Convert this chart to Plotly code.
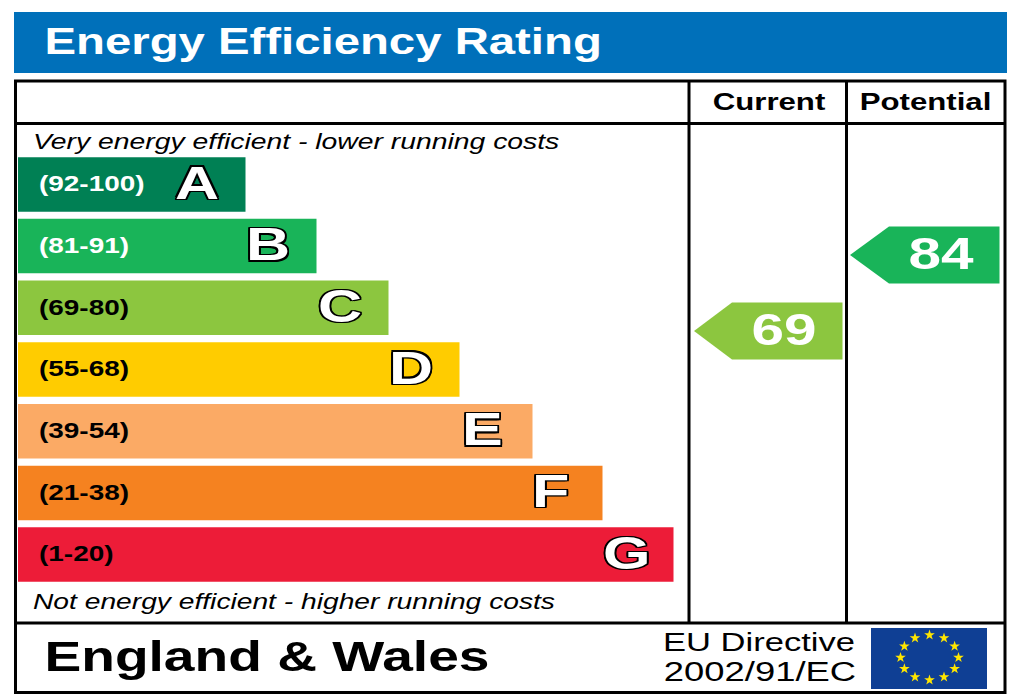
import math

import plotly.graph_objects as go

title = "Energy Efficiency Rating"
top_note = "Very energy efficient - lower running costs"
bottom_note = "Not energy efficient - higher running costs"
region = "England & Wales"
directive = ["EU Directive", "2002/91/EC"]

bands = ["A", "B", "C", "D", "E", "F", "G"]
band_ranges = ["(92-100)", "(81-91)", "(69-80)", "(55-68)", "(39-54)", "(21-38)", "(1-20)"]
band_lengths = [227.5, 298.5, 370.5, 441.5, 514.5, 584.5, 655.5]

columns = ["Current", "Potential"]
scores = [69, 84]

band_colors = ["#008054", "#19b459", "#8cc63f", "#ffcc00", "#fbaa65", "#f58220", "#ed1c38"]
range_text_colors = ["white", "white", "black", "black", "black", "black", "black"]
score_colors = ["#8cc63f", "#19b459"]

FONT = "Liberation Sans"
# the reference is the label image stretched sideways
STRETCH = 1.3
# plotly centres text a little high
TEXT_DROP = 2.5

row_top = 184.4
row_step = 61.7
row_height = 54.5
bar_left = 18
left_edge = 15.5
right_edge = 1005
col_lines = [689, 846.5]
top_edge = 81
head_line = 123.5
foot_line = 623
bottom_edge = 692.5

# arrow height follows the score
px_per_point = 5.07
y_at_69 = 331
arrow_tip = [694, 850]
arrow_right = [842.5, 999.5]
arrow_half = 28.5
arrow_neck = [38, 39]

fig = go.Figure()


def add_text(x, y, text, size, color="black", bold=False, pos="middle right", shadow="none"):
    fig.add_trace(go.Scatter(
        x=[x], y=[y + TEXT_DROP], mode="text", text=[text], textposition=pos,
        textfont=dict(family=FONT, size=size, color=color,
                      weight="bold" if bold else "normal",
                      shadow=shadow),
        hoverinfo="skip", showlegend=False, cliponaxis=False,
    ))


row_y = [row_top + i * row_step for i in range(len(bands))]

fig.add_trace(go.Bar(
    orientation="h", y=row_y, x=band_lengths, base=bar_left, width=row_height,
    marker=dict(color=band_colors, line=dict(width=0)),
    hoverinfo="skip", showlegend=False,
))

for i, score in enumerate(scores):
    mid = y_at_69 + (69 - score) * px_per_point
    tip = arrow_tip[i]
    neck = tip + arrow_neck[i]
    right = arrow_right[i]
    fig.add_trace(go.Scatter(
        x=[tip, neck, right, right, neck, tip],
        y=[mid, mid - arrow_half, mid - arrow_half, mid + arrow_half, mid + arrow_half, mid],
        mode="lines", fill="toself", fillcolor=score_colors[i], line=dict(width=0),
        hoverinfo="skip", showlegend=False,
    ))
    add_text(right - 58.5, mid, str(score), 45, "white", bold=True, pos="middle center")

# header band, table frame and the flag
shapes = [
    dict(type="rect", x0=14, x1=1007, y0=12, y1=73, fillcolor="#0070ba", line_width=0, layer="below"),
    dict(type="rect", x0=left_edge, x1=right_edge, y0=top_edge, y1=bottom_edge, line=dict(color="black", width=3)),
    dict(type="line", x0=left_edge, x1=right_edge, y0=head_line, y1=head_line, line=dict(color="black", width=3)),
    dict(type="line", x0=left_edge, x1=right_edge, y0=foot_line, y1=foot_line, line=dict(color="black", width=3)),
    dict(type="rect", x0=871, x1=987, y0=628, y1=689, fillcolor="#0f3f94", line_width=0, layer="below"),
]
for x in col_lines:
    shapes.append(dict(type="line", x0=x, x1=x, y0=top_edge, y1=foot_line, line=dict(color="black", width=3)))

add_text(44.5, 42, title, 36.4, "white", bold=True)
add_text(33, 141, "<i>" + top_note + "</i>", 21.8)
add_text(33, 601, "<i>" + bottom_note + "</i>", 21.7)
add_text(44.5, 657.5, region, 42.4, bold=True)
add_text(759, 642, directive[0], 26.6, pos="middle center")
add_text(760, 672, directive[1], 28, pos="middle center")

add_text(769, 102, columns[0], 24, bold=True, pos="middle center")
add_text(925.5, 102, columns[1], 24, bold=True, pos="middle center")

outline = "-1.5px -1.5px 0 #000, 1.5px -1.5px 0 #000, -1.5px 1.5px 0 #000, 1.5px 1.5px 0 #000, 0 1.5px 0 #000, 0 -1.5px 0 #000, 1.5px 0 0 #000, -1.5px 0 0 #000"
for i, band in enumerate(bands):
    add_text(39, row_y[i] - 1, band_ranges[i], 21.5, range_text_colors[i], bold=True)
    add_text(bar_left + band_lengths[i] - 70.5, row_y[i], band, 47, "white", bold=True, shadow=outline)

# twelve stars round the flag
star_angles = [math.radians(30 * h) for h in range(12)]
fig.add_trace(go.Scatter(
    x=[929.5 + 29 * math.sin(a) for a in star_angles],
    y=[657.5 - 22.5 * math.cos(a) for a in star_angles],
    mode="markers",
    marker=dict(symbol="star", size=8, color="#ffe600", line=dict(width=0)),
    hoverinfo="skip", showlegend=False,
))

fig.update_layout(
    width=1024, height=700, margin=dict(l=0, r=0, t=0, b=0),
    paper_bgcolor="white", plot_bgcolor="white", shapes=shapes,
    xaxis=dict(range=[0, 1024], visible=False, fixedrange=True),
    yaxis=dict(range=[700, 0], visible=False, fixedrange=True),
)

stretch_js = """
document.body.style.margin = '0';
document.querySelectorAll('.textpoint text').forEach(function (t) {
    var x = parseFloat(t.getAttribute('x'));
    t.setAttribute('transform', 'translate(' + x + ' 0) scale(%s 1) translate(' + (-x) + ' 0)');
});
""" % STRETCH

fig.write_html("out.html", post_script=stretch_js, config=dict(displayModeBar=False))
